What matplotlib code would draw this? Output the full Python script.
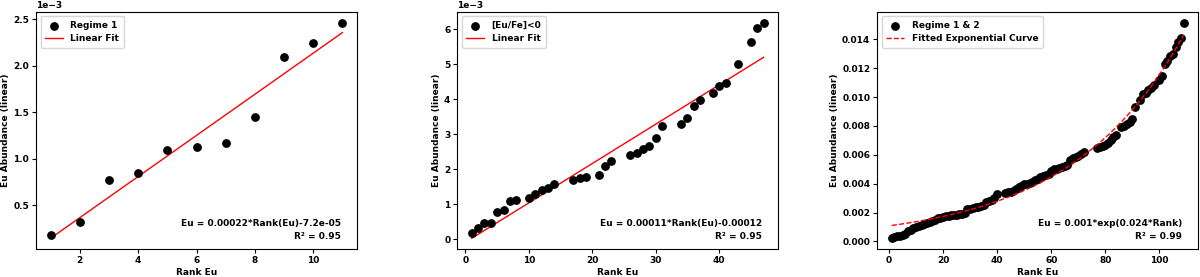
import numpy as np
import matplotlib
matplotlib.use("Agg")
import matplotlib.pyplot as plt

plt.rcParams['font.family'] = ['DejaVu Sans']
plt.rcParams['font.weight'] = 'bold'
plt.rcParams['axes.labelweight'] = 'bold'
plt.rcParams['font.size'] = 6.5

# panel 1 : Regime 1
rank_1 = np.arange(1, 12)
eu_1 = np.array([0.184, 0.315, 0.774, 0.852, 1.097, 1.122, 1.175, 1.452, 2.091, 2.241, 2.464]) * 1e-3

# panel 2 : [Eu/Fe]<0
rank_2 = np.array([1, 2, 3, 4, 5, 6, 7, 8, 10, 11, 12, 13, 14, 17, 18, 19, 21, 22, 23,
                   26, 27, 28, 29, 30, 31, 34, 35, 36, 37, 39, 40, 41, 43, 45, 46, 47])
eu_2 = np.array([0.19, 0.32, 0.47, 0.47, 0.78, 0.85, 1.10, 1.12, 1.18, 1.30, 1.42, 1.46,
                 1.59, 1.69, 1.75, 1.78, 1.83, 2.10, 2.24, 2.41, 2.47, 2.57, 2.68, 2.90,
                 3.24, 3.31, 3.48, 3.81, 3.99, 4.18, 4.38, 4.48, 5.02, 5.63, 6.03, 6.19]) * 1e-3

# panel 3 : Regime 1 & 2
rank_3 = np.array([1, 2, 3, 4, 5, 6, 7, 8, 9, 10, 11, 12, 13, 14, 15, 16, 17, 18, 19, 20,
                   21, 22, 23, 24, 25, 26, 27, 28, 29, 30, 31, 32, 33, 34, 35, 36, 37, 38,
                   39, 40, 43, 44, 45, 46, 47, 48, 49, 50, 51, 52, 53, 54, 55, 56, 57, 58,
                   59, 60, 61, 62, 63, 64, 65, 66, 67, 68, 69, 70, 71, 72, 77, 78, 79, 80,
                   81, 82, 83, 84, 86, 87, 88, 89, 90, 91, 93, 94, 95, 96, 97, 98, 100, 101,
                   102, 103, 104, 105, 106, 107, 108, 109])
eu_3 = np.array([0.22, 0.30, 0.35, 0.40, 0.45, 0.50, 0.70, 0.80, 0.90, 1.00, 1.10, 1.15,
                 1.20, 1.25, 1.35, 1.40, 1.50, 1.60, 1.65, 1.70, 1.75, 1.78, 1.80, 1.82,
                 1.85, 1.88, 1.90, 1.95, 2.25, 2.28, 2.30, 2.35, 2.40, 2.45, 2.55, 2.70,
                 2.80, 2.90, 3.00, 3.25, 3.35, 3.40, 3.45, 3.50, 3.60, 3.75, 3.85, 3.95,
                 4.00, 4.05, 4.15, 4.25, 4.35, 4.45, 4.50, 4.60, 4.70, 4.85, 5.00, 5.05,
                 5.10, 5.15, 5.20, 5.30, 5.65, 5.75, 5.85, 5.95, 6.05, 6.20, 6.45, 6.55,
                 6.60, 6.70, 6.85, 7.05, 7.25, 7.40, 7.90, 8.00, 8.10, 8.30, 8.50, 9.30,
                 9.80, 10.20, 10.30, 10.50, 10.65, 10.80, 11.20, 11.45, 12.30, 12.50,
                 12.85, 12.95, 13.50, 13.80, 14.10, 15.15]) * 1e-3

fit_texts = ["Eu = 0.00022*Rank(Eu)-7.2e-05\nR² = 0.95",
             "Eu = 0.00011*Rank(Eu)-0.00012\nR² = 0.95",
             "Eu = 0.001*exp(0.024*Rank)\nR² = 0.99"]


def exp_fit(x, y):
    # least squares a*exp(b*x), Gauss-Newton from a log-linear start
    b, la = np.polyfit(x, np.log(y), 1)
    a = np.exp(la)
    for _ in range(50):
        e = np.exp(b * x)
        r = y - a * e
        J = np.column_stack([e, a * x * e])
        step = np.linalg.lstsq(J, r, rcond=None)[0]
        a, b = a + step[0], b + step[1]
    return a, b


fig = plt.figure(figsize=(12, 2.77), dpi=100)
lefts = [0.030, 0.381, 0.731]
axes = [fig.add_axes([l, 0.101, 0.2675, 0.856]) for l in lefts]

ax = axes[0]
ax.scatter(rank_1, eu_1, color='black', s=28, label='Regime 1', zorder=3)
m, c = np.polyfit(rank_1, eu_1, 1)
ax.plot(rank_1, m * rank_1 + c, color='red', lw=1, label='Linear Fit')

ax = axes[1]
ax.scatter(rank_2, eu_2, color='black', s=28, label='[Eu/Fe]<0', zorder=3)
m, c = np.polyfit(rank_2, eu_2, 1)
ax.plot(rank_2, m * rank_2 + c, color='red', lw=1, label='Linear Fit')

ax = axes[2]
ax.scatter(rank_3, eu_3, color='black', s=28, label='Regime 1 & 2', zorder=3)
a, b = exp_fit(rank_3, eu_3)
ax.plot(rank_3, a * np.exp(b * rank_3), color='red', lw=1, linestyle='--',
        label='Fitted Exponential Curve', zorder=4)

for i, ax in enumerate(axes):
    ax.set_xlabel('Rank Eu', fontsize=6.5, labelpad=2)
    ax.set_ylabel('Eu Abundance (linear)', fontsize=6.5, labelpad=2)
    ax.tick_params(labelsize=6.5, length=3, pad=2)
    for lab in ax.get_xticklabels() + ax.get_yticklabels():
        lab.set_fontweight('bold')
    ax.legend(loc='upper left', fontsize=6.5, borderpad=0.5, handlelength=2.0)
    ax.text(0.95, 0.035, fit_texts[i], transform=ax.transAxes, ha='right', va='bottom',
            fontsize=6.5, fontweight='bold', linespacing=1.5)
    if i < 2:
        ax.ticklabel_format(style='sci', axis='y', scilimits=(0, 0))
        ax.yaxis.get_offset_text().set_fontsize(6.5)
        ax.yaxis.get_offset_text().set_fontweight('bold')

fig.savefig('out.png', dpi=100)
